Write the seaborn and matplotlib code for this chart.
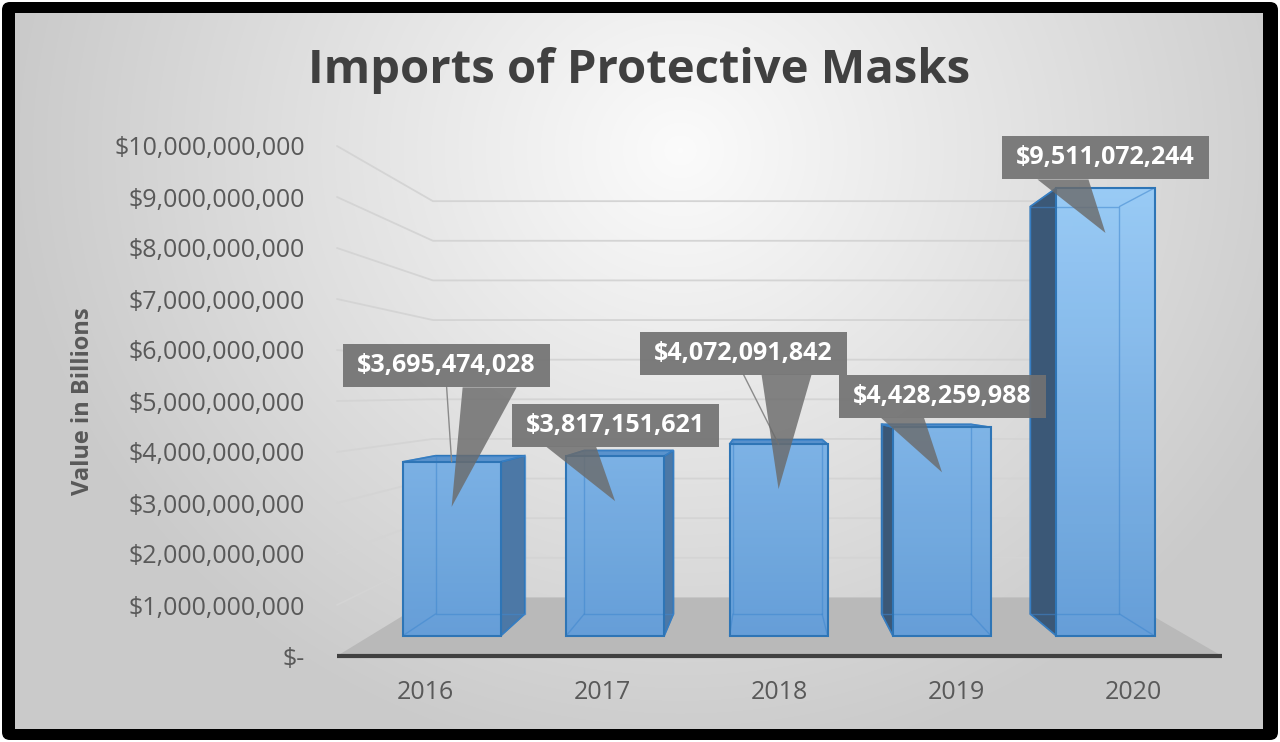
import numpy as np
import pandas as pd
import matplotlib
matplotlib.use("Agg")
import matplotlib.pyplot as plt
import seaborn as sns
from matplotlib.patches import Polygon, Rectangle, FancyBboxPatch
from matplotlib.colors import LinearSegmentedColormap

# ---------------- data ----------------
years = ["2016", "2017", "2018", "2019", "2020"]
values = [3695474028, 3817151621, 4072091842, 4428259988, 9511072244]
value_labels = ["$3,695,474,028", "$3,817,151,621", "$4,072,091,842",
                "$4,428,259,988", "$9,511,072,244"]
y_ticks = [0, 1e9, 2e9, 3e9, 4e9, 5e9, 6e9, 7e9, 8e9, 9e9, 1e10]
y_tick_labels = ["$-", "$1,000,000,000", "$2,000,000,000", "$3,000,000,000",
                 "$4,000,000,000", "$5,000,000,000", "$6,000,000,000",
                 "$7,000,000,000", "$8,000,000,000", "$9,000,000,000",
                 "$10,000,000,000"]
title = "Imports of Protective Masks"
y_title = "Value in Billions"

# ---------------- layout (callout placement, in pixels) ----------------
label_dx = [-5, 0, -35, 0, 0]
label_dy = [96, 31, 91, 31, 30]
ptr_base = [(16, 70), (-69, -19), (18, 68), (-61, -18), (-68, -17)]
leader = [True, False, True, False, False]

sns.set_style("white")
plt.rcParams["font.family"] = ["Open Sans", "DejaVu Sans"]

W, H = 1280, 742
fig = plt.figure(figsize=(12.8, 7.42), dpi=100)
fig.patch.set_facecolor("white")

# background: black rounded frame + soft radial gray gradient
bg = fig.add_axes([0, 0, 1, 1], zorder=-10)
bg.axis("off")
bg.add_patch(FancyBboxPatch((2, 2), W - 4, H - 4,
                            boxstyle="round,pad=0,rounding_size=8",
                            fc="black", ec="none", zorder=1))
yy, xx = np.mgrid[13:729, 15:1263]
r = np.sqrt(((xx - 680) / 700.0) ** 2 + ((yy - 150) / 650.0) ** 2)
g = np.clip(0.985 - 0.2 * r, 0.795, 1.0)
bg.imshow(np.dstack([g, g, g]), extent=(15, 1263, 729, 13),
          interpolation="bilinear", aspect="auto", zorder=2)
bg.set_xlim(0, W)
bg.set_ylim(H, 0)

# main axes
ax = fig.add_axes([337 / W, 1 - 656 / H, 885 / W, 510 / H])
ax.patch.set_alpha(0)

df = pd.DataFrame({"Year": years, "Value": values})
sns.barplot(data=df, x="Year", y="Value", ax=ax, width=0.6,
            color="#6fa8dc", saturation=1, edgecolor="#2e75b6",
            linewidth=1.4, zorder=5)
bars = [p for p in ax.patches if isinstance(p, Rectangle)]
ax.set_xlim(-0.5, 4.5)
ax.set_ylim(0, 1e10)

# simple perspective model
VX, VY = 1.93, 5.15e9
D1, D2, DW = 0.0765, 0.16, 0.223


def proj(x, y, d):
    return (x + d * (VX - x), y + d * (VY - y))


# back wall + left wall gridlines
for v in y_ticks[1:]:
    p0 = proj(-0.5, v, 0)
    p1 = proj(-0.5, v, DW)
    p2 = proj(4.5, v, DW)
    ax.plot([p0[0], p1[0], p2[0]], [p0[1], p1[1], p2[1]],
            color="#d4d4d4", lw=1.3, zorder=1, clip_on=False)

# floor
floor = [proj(-0.5, 0, 0), proj(4.5, 0, 0), proj(4.5, 0, DW), proj(-0.5, 0, DW)]
ax.add_patch(Polygon(floor, closed=True, fc="#b9b9b9", ec="none",
                     zorder=1.5, clip_on=False))
ax.plot([-0.5, 4.5], [0, 0], color="#404040", lw=3, zorder=3,
        clip_on=False, solid_capstyle="butt")

grad_cmap = LinearSegmentedColormap.from_list("g", ["#659ed8", "#a2d2fb"])
grad = np.linspace(1, 0, 256).reshape(-1, 1)

for i, p in enumerate(bars):
    x0 = p.get_x()
    w = p.get_width()
    h = p.get_height()
    x1 = x0 + w
    # front face
    fbl = proj(x0, 0, D1)
    ftr = proj(x1, h, D1)
    fbr = proj(x1, 0, D1)
    ftl = proj(x0, h, D1)
    p.set_x(fbl[0]); p.set_y(fbl[1])
    p.set_width(ftr[0] - fbl[0]); p.set_height(ftr[1] - fbl[1])
    p.set_alpha(0.95)
    # gradient on front face
    top_frac = ftr[1] / 1e10
    im = ax.imshow(grad[int((1 - top_frac) * 255):, :], cmap=grad_cmap,
                   vmin=0, vmax=1, extent=(fbl[0], ftr[0], fbl[1], ftr[1]),
                   aspect="auto", zorder=5.05, alpha=0.92)
    im.set_clip_path(p)
    ax.add_patch(Rectangle((fbl[0], fbl[1]), ftr[0] - fbl[0], ftr[1] - fbl[1],
                           fill=False, ec="#2e75b6", lw=1.5, zorder=6.5))
    # back face
    bbl = proj(x0, 0, D2)
    btr = proj(x1, h, D2)
    bbr = proj(x1, 0, D2)
    btl = proj(x0, h, D2)
    # side faces
    if x1 < VX:
        side = [fbr, ftr, btr, bbr]
        ax.add_patch(Polygon(side, closed=True, fc="#4c78a6", ec="#2e75b6",
                             lw=1.2, zorder=4.5, clip_on=False))
    if x0 > VX:
        side = [fbl, ftl, btl, bbl]
        ax.add_patch(Polygon(side, closed=True, fc="#3b5877", ec="#2e75b6",
                             lw=1.2, zorder=4.5, clip_on=False))
    if h < VY:
        top = [ftl, ftr, btr, btl]
        ax.add_patch(Polygon(top, closed=True, fc="#5a93cd", ec="#2e75b6",
                             lw=1.2, zorder=4.6, clip_on=False))
    # inner (see-through) edges
    ax.plot([bbl[0], bbr[0], btr[0], btl[0], bbl[0]],
            [bbl[1], bbr[1], btr[1], btl[1], bbl[1]],
            color="#3f87cf", lw=1.0, alpha=0.55, zorder=6)
    for a, b in [(fbl, bbl), (fbr, bbr), (ftl, btl), (ftr, btr)]:
        ax.plot([a[0], b[0]], [a[1], b[1]], color="#3f87cf", lw=1.0,
                alpha=0.55, zorder=6)

# data-label callouts
SX = 5.0 / 885.0        # data units per px (x)
SY = 1e10 / 510.0       # data units per px (y)
BOX_W, BOX_H = 207, 43
for i, v in enumerate(values):
    cx, cy = proj(i, v, D1)
    bx = cx + label_dx[i] * SX
    by = cy + label_dy[i] * SY
    bottom = by - BOX_H / 2 * SY
    tipx, tipy = cx, cy - 45 * SY
    if leader[i]:
        ax.plot([bx, cx], [bottom, cy], color="#8a8a8a", lw=1.0,
                zorder=8.5, clip_on=False)
    ax.add_patch(Polygon([(bx + ptr_base[i][0] * SX, bottom),
                          (bx + ptr_base[i][1] * SX, bottom),
                          (tipx, tipy)], closed=True, fc="#6b6b6b",
                         ec="none", alpha=0.82, zorder=9, clip_on=False))
    ax.add_patch(Rectangle((bx - BOX_W / 2 * SX, bottom), BOX_W * SX,
                           BOX_H * SY, fc="#727272", ec="none", alpha=0.92,
                           zorder=9, clip_on=False))
    ax.text(bx, by, value_labels[i], ha="center", va="center", color="white",
            fontsize=18, fontweight="bold", zorder=10, clip_on=False)

# axes styling
for s in ax.spines.values():
    s.set_visible(False)
ax.set_yticks(y_ticks)
ax.set_yticklabels(y_tick_labels)
ax.tick_params(axis="y", length=0, pad=23, labelsize=18, labelcolor="#595959")
ax.tick_params(axis="x", length=0, pad=17, labelsize=18, labelcolor="#595959")
ax.set_xlabel("")
ax.set_ylabel(y_title, fontsize=17, fontweight="bold", color="#595959",
              labelpad=14)
ax.set_xlim(-0.5, 4.5)
ax.set_ylim(0, 1e10)
ax.grid(False)

fig.text(639 / W, 1 - 83 / H, title, ha="center", va="baseline",
         fontsize=34, fontweight="bold", color="#404040")

fig.savefig("out.png", dpi=100)
